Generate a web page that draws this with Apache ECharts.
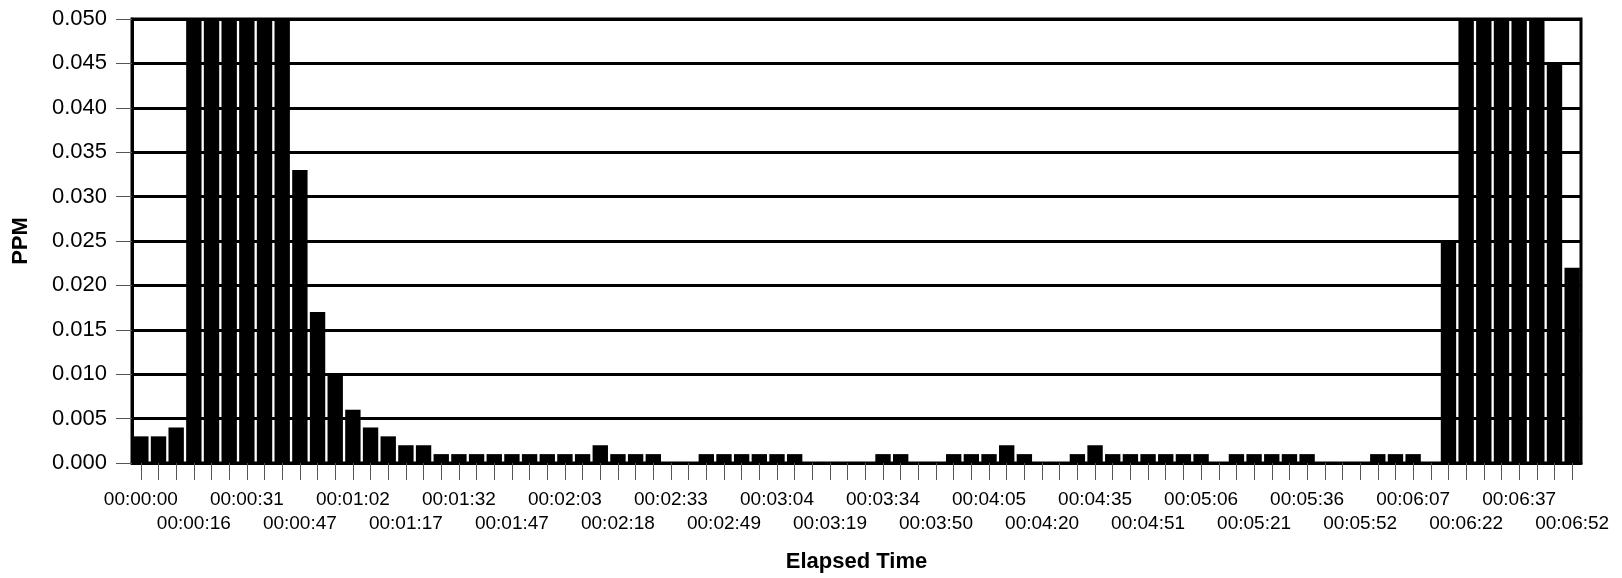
<!DOCTYPE html>
<html>
<head>
<meta charset="utf-8">
<script src="https://cdn.jsdelivr.net/npm/echarts@6/dist/echarts.min.js"></script>
<style>
  html, body { margin: 0; padding: 0; background: #fff; }
  #chart { width: 1622px; height: 578px; }
</style>
</head>
<body>
<div id="chart"></div>
<script>
// Category labels (elapsed time per sample)
const categories = [
  "00:00:00","00:00:05","00:00:10","00:00:16","00:00:21","00:00:26","00:00:31","00:00:36","00:00:41","00:00:47",
  "00:00:52","00:00:57","00:01:02","00:01:07","00:01:12","00:01:17","00:01:22","00:01:27","00:01:32","00:01:37",
  "00:01:42","00:01:47","00:01:53","00:01:58","00:02:03","00:02:08","00:02:13","00:02:18","00:02:23","00:02:28",
  "00:02:33","00:02:39","00:02:44","00:02:49","00:02:54","00:02:59","00:03:04","00:03:09","00:03:14","00:03:19",
  "00:03:24","00:03:29","00:03:34","00:03:40","00:03:45","00:03:50","00:03:55","00:04:00","00:04:05","00:04:10",
  "00:04:15","00:04:20","00:04:25","00:04:30","00:04:35","00:04:41","00:04:46","00:04:51","00:04:56","00:05:01",
  "00:05:06","00:05:11","00:05:16","00:05:21","00:05:26","00:05:31","00:05:36","00:05:42","00:05:47","00:05:52",
  "00:05:57","00:06:02","00:06:07","00:06:12","00:06:17","00:06:22","00:06:27","00:06:32","00:06:37","00:06:42",
  "00:06:47","00:06:52"
];

// PPM values (bars reaching the top are at or above the 0.050 axis max)
const ppm = [
  0.003, 0.003, 0.004, 0.050, 0.050, 0.050, 0.050, 0.050, 0.050, 0.033,
  0.017, 0.010, 0.006, 0.004, 0.003, 0.002, 0.002, 0.001, 0.001, 0.001,
  0.001, 0.001, 0.001, 0.001, 0.001, 0.001, 0.002, 0.001, 0.001, 0.001,
  0.000, 0.000, 0.001, 0.001, 0.001, 0.001, 0.001, 0.001, 0.000, 0.000,
  0.000, 0.000, 0.001, 0.001, 0.000, 0.000, 0.001, 0.001, 0.001, 0.002,
  0.001, 0.000, 0.000, 0.001, 0.002, 0.001, 0.001, 0.001, 0.001, 0.001,
  0.001, 0.000, 0.001, 0.001, 0.001, 0.001, 0.001, 0.000, 0.000, 0.000,
  0.001, 0.001, 0.001, 0.000, 0.025, 0.050, 0.050, 0.050, 0.050, 0.050,
  0.045, 0.022
];

const yMin = 0, yMax = 0.05, yStep = 0.005;
const xName = "Elapsed Time";
const yName = "PPM";
const FONT = "'Liberation Sans', Arial, Helvetica, sans-serif";

const labelBase = { fontFamily: FONT, fontSize: 19, color: '#000', hideOverlap: false };

const chart = echarts.init(document.getElementById('chart'), null, { renderer: 'canvas' });
chart.setOption({
  animation: false,
  backgroundColor: '#ffffff',
  grid: {
    left: 132, right: 41, top: 19, bottom: 115,
    show: true, borderColor: '#000', borderWidth: 3, backgroundColor: 'transparent'
  },
  xAxis: [{
    // first label row + ticks + axis title
    type: 'category',
    data: categories,
    position: 'bottom',
    name: xName,
    nameLocation: 'middle',
    nameGap: 88,
    nameTextStyle: { fontFamily: FONT, fontSize: 22, fontWeight: 'bold', color: '#000' },
    axisLine: { show: true, lineStyle: { color: '#000', width: 3 } },
    axisTick: { show: true, alignWithLabel: true, interval: 0, length: 17, lineStyle: { color: '#555', width: 1 } },
    axisLabel: Object.assign({}, labelBase, {
      margin: 27,
      interval: function (i) { return i % 6 === 0; }
    }),
    splitLine: { show: false }
  }, {
    // second (staggered) label row
    type: 'category',
    data: categories,
    position: 'bottom',
    axisLine: { show: false },
    axisTick: { show: false },
    axisLabel: Object.assign({}, labelBase, {
      margin: 51,
      interval: function (i) { return i % 6 === 3; }
    }),
    splitLine: { show: false }
  }],
  yAxis: {
    type: 'value',
    min: yMin, max: yMax, interval: yStep,
    name: yName,
    nameLocation: 'middle',
    nameGap: 100,
    nameRotate: 90,
    nameTextStyle: { fontFamily: FONT, fontSize: 22, fontWeight: 'bold', color: '#000' },
    axisLine: { show: true, lineStyle: { color: '#000', width: 3 } },
    axisTick: { show: true, length: 16, lineStyle: { color: '#555', width: 1 } },
    axisLabel: {
      margin: 25,
      showMinLabel: true,
      showMaxLabel: true,
      fontFamily: FONT, fontSize: 22, color: '#000',
      formatter: function (v) { return v.toFixed(3); }
    },
    splitLine: { show: true, lineStyle: { color: '#000', width: 3 } }
  },
  series: [{
    type: 'bar',
    xAxisIndex: 0,
    data: ppm,
    barCategoryGap: '13%',
    clip: true,
    itemStyle: { color: '#000' }
  }]
});
</script>
</body>
</html>
